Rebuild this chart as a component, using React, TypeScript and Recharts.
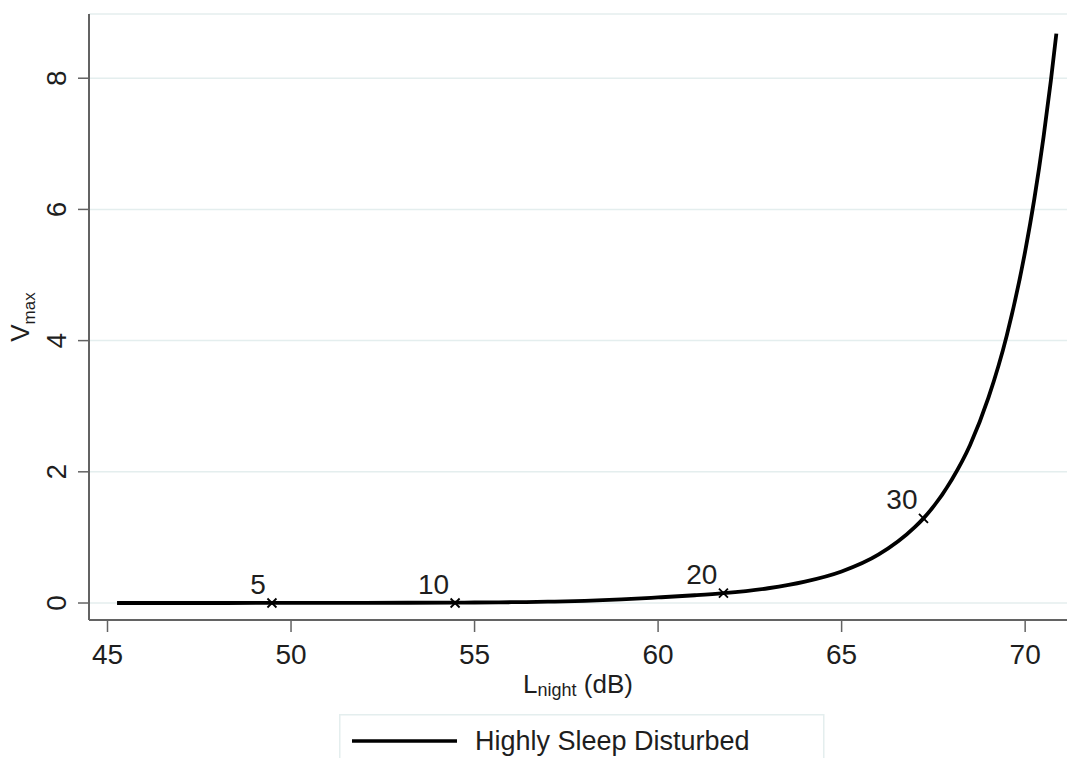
import React from 'react';
import { ComposedChart, Line, Scatter, XAxis, YAxis, CartesianGrid, Legend, Label } from 'recharts';

// Data
const lnight = [45.26, 47, 49.5, 52, 54.5, 55, 56, 57, 58, 59, 60, 61, 61.78, 63, 64, 65, 66, 67, 67.23, 68, 68.5, 69, 69.5, 70, 70.25, 70.5, 70.7, 70.85];
const vmax = [0, 0, 0.001, 0.003, 0.006, 0.008, 0.012, 0.02, 0.033, 0.055, 0.085, 0.118, 0.15, 0.225, 0.325, 0.48, 0.736, 1.16, 1.29, 1.88, 2.41, 3.13, 4.08, 5.36, 6.16, 7.1, 7.96, 8.68];
const markerLnight = [49.48, 54.47, 61.78, 67.23];
const markerVmax = [0, 0, 0.15, 1.29];
const markerLabels = ['5', '10', '20', '30'];
const xTicks = [45, 50, 55, 60, 65, 70];
const yTicks = [0, 2, 4, 6, 8];
const seriesName = 'Highly Sleep Disturbed';

const curveData = lnight.map((x, i) => ({ x, y: vmax[i] }));
const markerData = markerLnight.map((x, i) => ({ x, y: markerVmax[i], label: markerLabels[i] }));

const FONT = '"Liberation Sans", Arial, Helvetica, sans-serif';
const TEXT = '#1e1e1e';
const AXIS = '#636363';
const GRID = '#e4eeee';

const XTick = (props: any) => {
  const { x, y, payload } = props;
  return (
    <text x={x} y={y} dy="0.71em" textAnchor="middle" fontSize={28} fill={TEXT} fontFamily={FONT}>
      {payload.value}
    </text>
  );
};

const YTick = (props: any) => {
  const { x, y, payload } = props;
  return (
    <g transform={`translate(${x},${y}) rotate(-90)`}>
      <text x={0} y={0} textAnchor="middle" fontSize={28} fill={TEXT} fontFamily={FONT}>
        {payload.value}
      </text>
    </g>
  );
};

const renderYLabel = (props: any) => {
  const vb = props.viewBox || { y: 14, height: 606 };
  const cy = vb.y + vb.height / 2;
  return (
    <g transform={`translate(29, ${cy}) rotate(-90)`}>
      <text x={0} y={0} textAnchor="middle" fill={TEXT} fontFamily={FONT}>
        <tspan fontSize={26}>V</tspan>
        <tspan fontSize={17} dy={6}>max</tspan>
      </text>
    </g>
  );
};

const renderXLabel = (props: any) => {
  const vb = props.viewBox || { x: 89, width: 978 };
  const cx = vb.x + vb.width / 2;
  return (
    <text x={cx} y={693} textAnchor="middle" fill={TEXT} fontFamily={FONT}>
      <tspan fontSize={26}>L</tspan>
      <tspan fontSize={18} dy={3}>night</tspan>
      <tspan fontSize={26} dy={-3}> (dB)</tspan>
    </text>
  );
};

const MarkerShape = (props: any) => {
  const { cx, cy, payload } = props;
  if (cx == null || cy == null) return null;
  const s = 4.5;
  return (
    <g>
      <line x1={cx - s} y1={cy - s} x2={cx + s} y2={cy + s} stroke="#000" strokeWidth={1.8} />
      <line x1={cx - s} y1={cy + s} x2={cx + s} y2={cy - s} stroke="#000" strokeWidth={1.8} />
      <text x={cx - 6} y={cy - 9} textAnchor="end" fontSize={28} fill={TEXT} fontFamily={FONT}>
        {payload.label}
      </text>
    </g>
  );
};

const renderLegend = () => (
  <svg width={486} height={44} style={{ display: 'block' }}>
    <rect x={0.75} y={0.75} width={484} height={70} fill="#fff" stroke={GRID} strokeWidth={1.5} />
    <line x1={13} y1={27} x2={118} y2={27} stroke="#000" strokeWidth={3.5} />
    <text x={136} y={36} fontSize={27} fill={TEXT} fontFamily={FONT}>
      {seriesName}
    </text>
  </svg>
);

export default function App() {
  return (
    <div style={{ position: 'absolute', left: 0, top: 0, background: '#fff' }}>
      <ComposedChart
        width={1067}
        height={758}
        margin={{ top: 14, right: 0, bottom: 0, left: 0 }}
      >
        <CartesianGrid horizontal vertical={false} stroke={GRID} strokeWidth={1.5} />
        <XAxis
          type="number"
          dataKey="x"
          domain={[44.496, 71.14]}
          ticks={xTicks}
          allowDataOverflow
          height={138}
          axisLine={{ stroke: AXIS, strokeWidth: 2 }}
          tickLine={{ stroke: AXIS, strokeWidth: 1.5 }}
          tickSize={12}
          tickMargin={12}
          tick={<XTick />}
          interval={0}
        >
          <Label content={renderXLabel} />
        </XAxis>
        <YAxis
          type="number"
          dataKey="y"
          domain={[-0.259, 8.979]}
          ticks={yTicks}
          allowDataOverflow
          width={89}
          axisLine={{ stroke: AXIS, strokeWidth: 2 }}
          tickLine={{ stroke: AXIS, strokeWidth: 1.5 }}
          tickSize={11}
          tickMargin={12}
          tick={<YTick />}
          interval={0}
        >
          <Label content={renderYLabel} />
        </YAxis>
        <Line
          data={curveData}
          dataKey="y"
          type="monotone"
          stroke="#000"
          strokeWidth={3.8}
          dot={false}
          activeDot={false}
          isAnimationActive={false}
          name={seriesName}
        />
        <Scatter
          data={markerData}
          dataKey="y"
          shape={<MarkerShape />}
          isAnimationActive={false}
          legendType="none"
        />
        <Legend
          layout="horizontal"
          verticalAlign="middle"
          align="center"
          wrapperStyle={{ left: 339, top: 714, width: 486, height: 44 }}
          content={renderLegend}
        />
      </ComposedChart>
    </div>
  );
}
